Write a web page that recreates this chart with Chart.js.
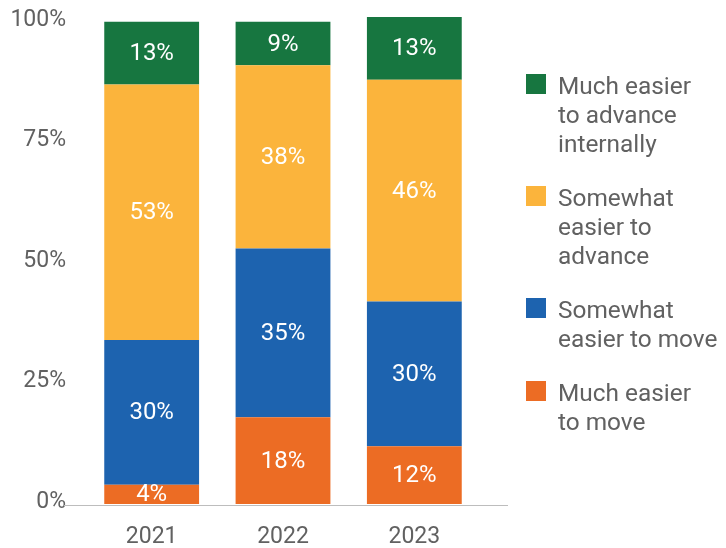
<!DOCTYPE html>
<html><head><meta charset="utf-8">
<script src="https://cdn.jsdelivr.net/npm/chart.js@4"></script>
<style>html,body{margin:0;padding:0;background:#fff}#wrap{width:726px;height:548px;position:relative}</style>
</head><body><div id="wrap"><canvas id="c" width="726" height="548"></canvas></div>
<script>
const categories = ['2021', '2022', '2023'];
const muchEasierMove = [4, 18, 12];
const somewhatEasierMove = [30, 35, 30];
const somewhatEasierAdvance = [53, 38, 46];
const muchEasierAdvance = [13, 9, 13];
const yTicks = [0, 25, 50, 75, 100];
const seriesNames = [
  ['Much easier', 'to move'],
  ['Somewhat', 'easier to move'],
  ['Somewhat', 'easier to', 'advance'],
  ['Much easier', 'to advance', 'internally']
];
const seriesColors = ['#EC6C24', '#1D63AF', '#FBB43C', '#177640'];

const FONT = 'Roboto, "Noto Sans", sans-serif';
const TEXT_GRAY = '#616161';

const barLabels = {
  id: 'barLabels',
  afterDatasetsDraw(chart) {
    const ctx = chart.ctx;
    ctx.save();
    ctx.fillStyle = '#ffffff';
    ctx.font = '24px ' + FONT;
    ctx.textAlign = 'center';
    ctx.textBaseline = 'middle';
    chart.data.datasets.forEach((ds, i) => {
      const meta = chart.getDatasetMeta(i);
      meta.data.forEach((el, j) => {
        const v = ds.data[j];
        ctx.fillText(v + '%', el.x, (el.y + el.base) / 2 + 1);
      });
    });
    ctx.restore();
  }
};

const baseLine = {
  id: 'baseLine',
  afterDraw(chart) {
    const ctx = chart.ctx;
    const y = chart.scales.y.getPixelForValue(0);
    ctx.save();
    ctx.strokeStyle = '#bdbdbd';
    ctx.lineWidth = 1;
    ctx.beginPath();
    ctx.moveTo(64, Math.round(y) + 1.5);
    ctx.lineTo(508, Math.round(y) + 1.5);
    ctx.stroke();
    ctx.restore();
  }
};

const sideLegend = {
  id: 'sideLegend',
  afterDraw(chart) {
    const ctx = chart.ctx;
    ctx.save();
    ctx.font = '24.4px ' + FONT;
    ctx.textAlign = 'left';
    ctx.textBaseline = 'alphabetic';
    let top = 74;
    for (let k = seriesNames.length - 1; k >= 0; k--) {
      const lines = seriesNames[k];
      ctx.fillStyle = seriesColors[k];
      ctx.fillRect(526, top, 20, 20);
      ctx.fillStyle = TEXT_GRAY;
      lines.forEach((t, li) => ctx.fillText(t, 558, top + 20 + li * 29));
      top += lines.length * 29 + 25;
    }
    ctx.restore();
  }
};

const values = [muchEasierMove, somewhatEasierMove, somewhatEasierAdvance, muchEasierAdvance];

new Chart(document.getElementById('c'), {
  type: 'bar',
  data: {
    labels: categories,
    datasets: values.map((d, i) => ({
      label: seriesNames[i].join(' '),
      data: d,
      backgroundColor: seriesColors[i],
      borderWidth: 0,
      barPercentage: 0.722,
      categoryPercentage: 1
    }))
  },
  options: {
    responsive: false,
    animation: false,
    devicePixelRatio: 1,
    layout: { padding: { top: 17, right: 246, left: 0, bottom: 0 } },
    plugins: { legend: { display: false }, tooltip: { enabled: false } },
    scales: {
      x: {
        stacked: true,
        grid: { display: false, drawTicks: false },
        border: { display: false },
        ticks: { font: { family: FONT, size: 23 }, color: TEXT_GRAY, padding: 19 },
        afterFit(s) { s.height = 44; s.paddingLeft = 0; s.paddingRight = 0; }
      },
      y: {
        stacked: true,
        min: 0,
        max: 101,
        grid: { display: false, drawTicks: false },
        border: { display: false },
        ticks: {
          font: { family: FONT, size: 23 }, color: TEXT_GRAY, padding: 20,
          labelOffset: -2,
          callback: v => v + '%'
        },
        afterBuildTicks(s) { s.ticks = yTicks.map(v => ({ value: v })); },
        afterFit(s) { s.width = 86; s.paddingTop = 0; s.paddingBottom = 0; }
      }
    }
  },
  plugins: [barLabels, baseLine, sideLegend]
});
</script></body></html>
